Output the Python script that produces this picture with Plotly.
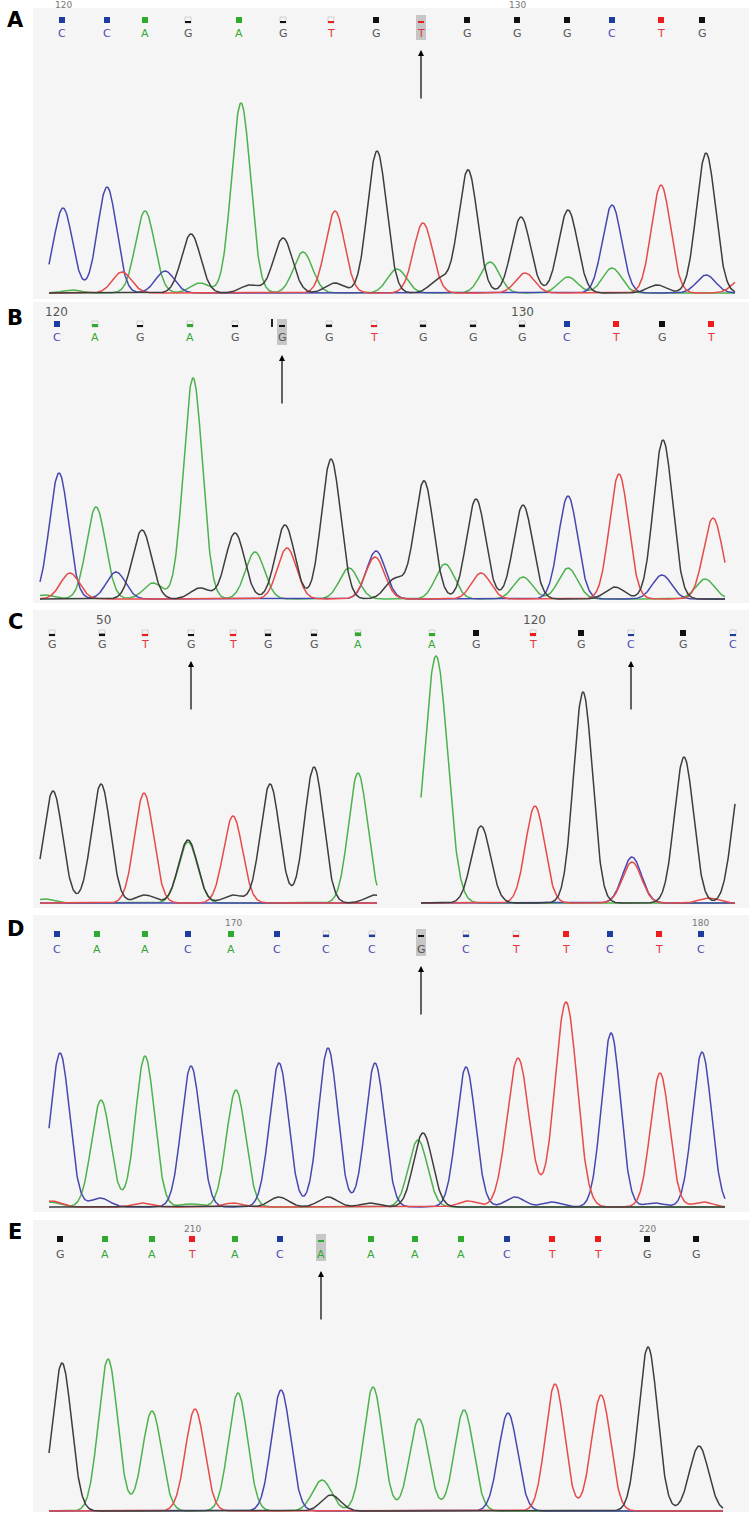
import numpy as np
import plotly.graph_objects as go

# ======================= DATA =======================
# base calls, call positions (scan units), call quality (1 = strong call)
A_bases = list("CCAGAGTGTGGGCTG")
A_calls = [62, 107, 145, 188, 239, 283, 331, 376, 421, 467, 517, 567, 612, 661, 702]
A_qual = [1, 1, 1, 0.3, 1, 0.3, 0.3, 1, 0.3, 1, 1, 1, 1, 1, 1]
A_ruler = [("120", 63), ("130", 517)]
A_mut = [421]
# peaks per dye channel: (position, height[, width])
A_G = [(191, 59), (250, 8), (283, 55), (335, 10), (377, 142), (440, 14), (468, 123),
       (521, 76), (568, 83), (657, 8), (706, 140)]
A_A = [(72, 3), (145, 82), (200, 10), (241, 190), (303, 41), (397, 24), (490, 31),
       (568, 16), (612, 25)]
A_C = [(63, 85), (107, 106), (165, 22), (612, 88), (706, 18)]
A_T = [(122, 21), (335, 82), (423, 70), (525, 20), (661, 108), (742, 14)]

B_bases = list("CAGAGGGTGGGCTGT")
B_calls = [57, 95, 140, 190, 235, 282, 329, 374, 423, 473, 522, 567, 616, 662, 711]
B_qual = [1, 0.5, 0.3, 0.5, 0.3, 0.3, 0.4, 0.3, 0.4, 0.4, 0.4, 1, 1, 1, 1]
B_ruler = [("120", 56), ("130", 522)]
B_mut = [282]
B_G = [(142, 69), (200, 11), (235, 66), (285, 74), (331, 140), (395, 20), (424, 118),
       (476, 100), (523, 94), (615, 12), (663, 159)]
B_A = [(45, 4), (96, 92), (153, 16), (193, 221), (255, 47), (349, 31), (445, 35),
       (523, 22), (568, 31), (705, 20)]
B_C = [(59, 126), (116, 27), (376, 48), (568, 103), (662, 24)]
B_T = [(70, 26), (287, 51), (375, 42), (481, 26), (619, 125), (713, 81)]

C_bases = list("GGTGTGGA") + list("AGTGCGC")
C_calls = [52, 102, 145, 191, 233, 268, 314, 358, 432, 476, 533, 581, 631, 683, 733]
C_qual = [0.35, 0.4, 0.35, 0.3, 0.35, 0.4, 0.4, 0.6, 0.5, 1, 0.5, 1, 0.3, 1, 0.3]
C_ruler = [("50", 103), ("120", 534)]
C_mut = [191, 631]
C_G = [(53, 112), (101, 119), (145, 8), (188, 63), (233, 8), (270, 119), (314, 136),
       (375, 8), (481, 77), (583, 211), (684, 146), (742, 130)]
C_A = [(45, 4), (188, 61), (358, 130), (436, 247, 11.5)]
C_C = [(632, 46)]
C_T = [(144, 110), (233, 87), (535, 97), (632, 41), (709, 5)]

D_bases = list("CAACACCCGCTTCTC")
D_calls = [57, 97, 145, 188, 231, 277, 326, 372, 421, 466, 516, 566, 610, 659, 701]
D_qual = [1, 1, 1, 1, 1, 1, 0.4, 0.4, 0.3, 0.4, 0.35, 1, 1, 1, 1]
D_ruler = [("170", 233), ("180", 700)]
D_mut = [421]
D_G = [(279, 10), (328, 10), (370, 4), (423, 74)]
D_A = [(50, 5), (101, 107), (145, 151), (190, 3), (236, 117), (418, 67)]
D_C = [(60, 154), (100, 9), (191, 141), (279, 144), (328, 159), (375, 144), (466, 140),
       (515, 10), (552, 5), (611, 174), (655, 4), (702, 155)]
D_T = [(52, 6), (142, 4), (233, 4), (468, 6), (518, 149, 11), (566, 205, 11), (660, 134),
       (703, 5)]

E_bases = list("GAATACAAAACTTGG")
E_calls = [60, 105, 152, 192, 235, 280, 321, 371, 415, 461, 507, 552, 598, 647, 696]
E_qual = [1, 1, 1, 1, 1, 1, 0.3, 1, 1, 1, 1, 1, 1, 1, 1]
E_ruler = [("210", 192), ("220", 647)]
E_mut = [321]
E_G = [(62, 148), (331, 16), (648, 164), (699, 65)]
E_A = [(108, 152), (152, 100), (238, 118), (322, 31), (373, 124), (419, 92), (464, 101)]
E_C = [(281, 121), (508, 98)]
E_T = [(195, 102), (555, 127), (601, 116)]

# ======================= LAYOUT / STYLE =======================
W, H = 749, 1520
X0 = 33  # left edge of the trace panels (px)
SIGMA = 9.5

LINE_COL = {"G": "#3d3d3d", "A": "#4cb24c", "C": "#4747b0", "T": "#e64a4a"}
TXT_COL = {"G": "#555555", "A": "#35a835", "C": "#4a4ab4", "T": "#e23a3a"}
SQ_COL = {"G": "#111111", "A": "#2eab2e", "C": "#1f3d9e", "T": "#ee1c1c"}

PANELS = [
    dict(lab="A", top=8, bot=299, base=293, num=5, sq=20, let=33, lab_y=20,
         spans=[(49, 735)], bases=A_bases, calls=A_calls, qual=A_qual,
         ruler=A_ruler, mut=A_mut, hl=True,
         peaks={"G": A_G, "A": A_A, "C": A_C, "T": A_T}),
    dict(lab="B", top=302, bot=603, base=599, num=312, sq=324, let=338, lab_y=318,
         spans=[(40, 725)], bases=B_bases, calls=B_calls, qual=B_qual,
         ruler=B_ruler, mut=B_mut, hl=True,
         peaks={"G": B_G, "A": B_A, "C": B_C, "T": B_T}),
    dict(lab="C", top=610, bot=908, base=903, num=620, sq=633, let=644, lab_y=622,
         spans=[(40, 377), (421, 735)], bases=C_bases, calls=C_calls, qual=C_qual,
         ruler=C_ruler, mut=C_mut, hl=False,
         peaks={"G": C_G, "A": C_A, "C": C_C, "T": C_T}),
    dict(lab="D", top=915, bot=1212, base=1207, num=923, sq=934, let=949, lab_y=929,
         spans=[(49, 725)], bases=D_bases, calls=D_calls, qual=D_qual,
         ruler=D_ruler, mut=D_mut, hl=True,
         peaks={"G": D_G, "A": D_A, "C": D_C, "T": D_T}),
    dict(lab="E", top=1220, bot=1512, base=1511, num=1229, sq=1239, let=1254, lab_y=1232,
         spans=[(49, 723)], bases=E_bases, calls=E_calls, qual=E_qual,
         ruler=E_ruler, mut=E_mut, hl=True,
         peaks={"G": E_G, "A": E_A, "C": E_C, "T": E_T}),
]


def py(px):
    return 1 - px / H


def trace_curve(peaks, x):
    y = np.zeros_like(x)
    for p in peaks:
        pos, h = p[0], p[1]
        s = p[2] if len(p) > 2 else SIGMA
        y += h * np.exp(-((x - pos) ** 2) / (2 * s * s))
    return y


fig = go.Figure()
shapes, annots = [], []
layout_axes = {}

for i, P in enumerate(PANELS, start=1):
    xa = "x" if i == 1 else f"x{i}"
    ya = "y" if i == 1 else f"y{i}"
    xkey = "xaxis" if i == 1 else f"xaxis{i}"
    ykey = "yaxis" if i == 1 else f"yaxis{i}"
    layout_axes[xkey] = dict(domain=[X0 / W, 1], range=[X0, W], visible=False,
                             fixedrange=True, anchor=ya)
    layout_axes[ykey] = dict(domain=[py(P["bot"]), py(P["top"])],
                             range=[P["base"] - P["bot"], P["base"] - P["top"]],
                             visible=False, fixedrange=True, anchor=xa)

    # dye traces
    for ch in ["A", "C", "T", "G"]:
        for (s0, s1) in P["spans"]:
            x = np.arange(s0, s1 + 0.01, 0.5)
            y = trace_curve(P["peaks"][ch], x)
            fig.add_trace(go.Scatter(x=x, y=y, mode="lines", xaxis=xa, yaxis=ya,
                                     line=dict(color=LINE_COL[ch], width=1.5),
                                     hoverinfo="skip", showlegend=False))

    # highlight of the mutated call
    if P["hl"]:
        for m in P["mut"]:
            shapes.append(dict(type="rect", xref=xa, yref="paper", layer="above",
                               x0=m - 5, x1=m + 5, y0=py(P["let"] + 7), y1=py(P["sq"] - 5),
                               fillcolor="#c6c6c6", line=dict(width=0)))

    # quality squares + base letters
    for b, c, q in zip(P["bases"], P["calls"], P["qual"]):
        if q >= 1:
            shapes.append(dict(type="rect", xref=xa, yref="paper", layer="above",
                               x0=c - 3, x1=c + 3, y0=py(P["sq"] + 3), y1=py(P["sq"] - 3),
                               fillcolor=SQ_COL[b], line=dict(width=0)))
        else:
            shapes.append(dict(type="rect", xref=xa, yref="paper", layer="above",
                               x0=c - 3, x1=c + 3, y0=py(P["sq"] + 3), y1=py(P["sq"] - 3),
                               fillcolor="rgba(0,0,0,0)", line=dict(width=0.8, color="#c8c8c8")))
            shapes.append(dict(type="rect", xref=xa, yref="paper", layer="above",
                               x0=c - 3, x1=c + 3, y0=py(P["sq"] + 3),
                               y1=py(P["sq"] + 3 - max(2, 6 * q)),
                               fillcolor=SQ_COL[b], line=dict(width=0)))
        annots.append(dict(x=c, y=py(P["let"]), xref=xa, yref="paper", text=b,
                           showarrow=False, xanchor="center", yanchor="middle",
                           font=dict(family="DejaVu Sans", size=11, color=TXT_COL[b])))

    # ruler numbers
    small = P["lab"] in ("A", "D", "E")
    for t, c in P["ruler"]:
        annots.append(dict(x=c, y=py(P["num"]), xref=xa, yref="paper", text=t,
                           showarrow=False, xanchor="center", yanchor="middle",
                           font=dict(family="DejaVu Sans", size=9 if small else 12,
                                     color="#777777" if small else "#555555")))

    # arrows marking the mutation
    for m in P["mut"]:
        annots.append(dict(x=m, y=py(P["let"] + 17), xref=xa, yref="paper", text="",
                           showarrow=True, arrowhead=2, arrowsize=1, arrowwidth=1.2,
                           arrowcolor="#000000", ax=0, ay=50, axref="pixel", ayref="pixel",
                           standoff=0, startstandoff=0))

    # panel label
    annots.append(dict(x=15 / W, y=py(P["lab_y"]), xref="paper", yref="paper",
                       text=f"<b>{P['lab']}</b>", showarrow=False,
                       xanchor="center", yanchor="middle",
                       font=dict(family="DejaVu Sans", size=21, color="#000000")))

# insertion tick next to the highlighted call in panel B
shapes.append(dict(type="rect", xref="x2", yref="paper", layer="above",
                   x0=B_mut[0] - 11, x1=B_mut[0] - 9, y0=py(327), y1=py(319),
                   fillcolor="#222222", line=dict(width=0)))

fig.update_layout(width=W, height=H, margin=dict(l=0, r=0, t=0, b=0),
                  paper_bgcolor="#ffffff", plot_bgcolor="#f5f5f5",
                  shapes=shapes, annotations=annots, showlegend=False,
                  **layout_axes)

fig.write_html("out.html", config={"displayModeBar": False, "staticPlot": True},
               post_script="document.body.style.margin='0';document.body.style.padding='0';"
                           "document.body.style.overflow='hidden';")
